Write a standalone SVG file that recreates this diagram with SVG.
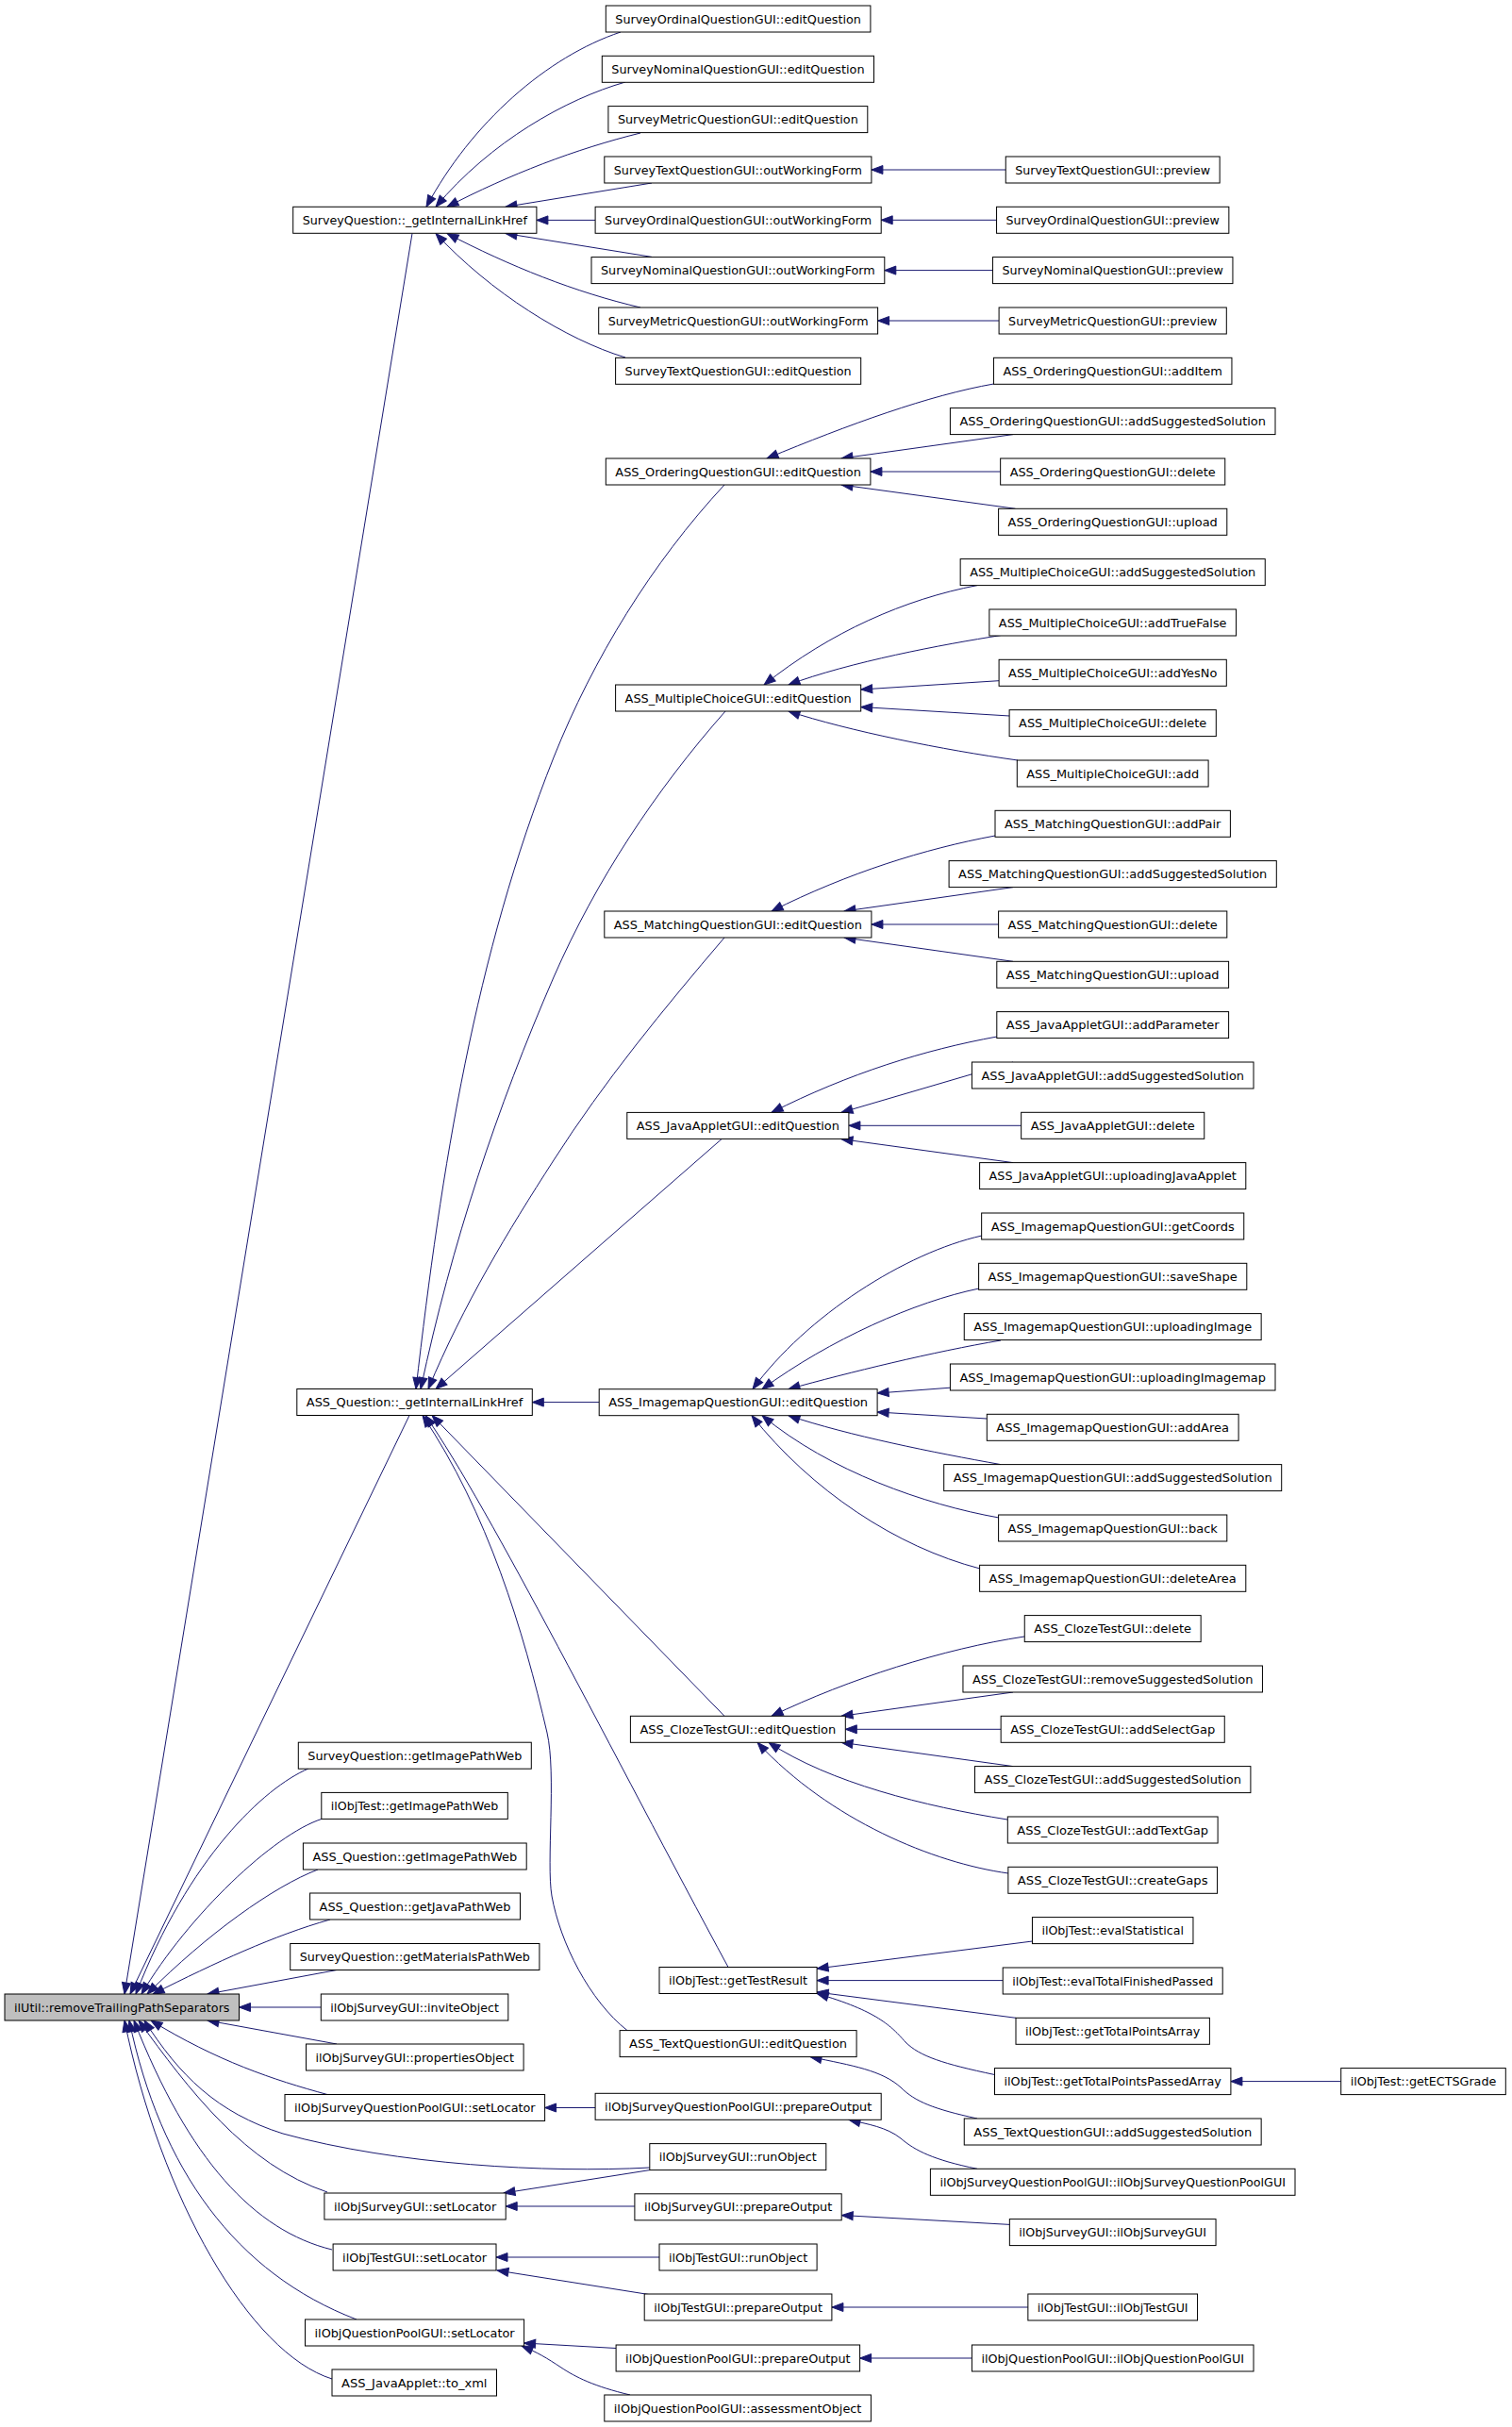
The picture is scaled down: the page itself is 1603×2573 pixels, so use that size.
<svg xmlns="http://www.w3.org/2000/svg" width="1603" height="2573" viewBox="0 0 1603 2573">
<style>
.node rect{fill:#ffffff;stroke:#000000;stroke-width:1}
.node.root rect{fill:#bfbfbf}
.node text{font-family:"DejaVu Sans","Liberation Sans",sans-serif;font-size:12.7px;text-anchor:middle;fill:#000000}
#edges path{fill:none;stroke:#191970;stroke-width:1;marker-end:url(#arr)}
</style>
<defs>
<marker id="arr" markerUnits="userSpaceOnUse" markerWidth="12" markerHeight="9" viewBox="0 0 12 9" refX="12" refY="4.5" orient="auto" overflow="visible">
<path d="M0,0 L12,4.5 L0,9 z" fill="#191970" stroke="#191970" stroke-width="1"/>
</marker>
</defs>
<rect width="1603" height="2573" fill="#ffffff"/>
<g id="edges">
<path d="M658,34 C580,60 500,130 452,219.3"/>
<path d="M663,87 C600,105 520,150 462,219.3"/>
<path d="M679,141 C610,158 540,185 474,219.3"/>
<path d="M691,194 L536,219.3"/>
<path d="M631,233.4 L568.9,233.4"/>
<path d="M691,272.4 L536,247.5"/>
<path d="M679,326 C610,310 540,282 474,247.5"/>
<path d="M663,379 C600,360 520,310 462,247.5"/>
<path d="M1066.3,180 L923.9,180"/>
<path d="M1056.6,233.3 L934.2,233.3"/>
<path d="M1052.5,286.6 L937.8,286.6"/>
<path d="M1059.1,340 L930.6,340"/>
<path d="M437,247.5 L132,2114"/>
<path d="M1053.5,407 C985,419 900,450 813,486"/>
<path d="M1074,460.6 L892,486"/>
<path d="M1060.7,500 L922.9,500"/>
<path d="M1076.5,539.3 L892,514"/>
<path d="M768,514 C691,597 629,698 587,803 C504,1012 468,1237 441,1472.5"/>
<path d="M1036,620.6 C960,635 880,670 810,726"/>
<path d="M1061,673.6 C1000,683 900,702 836,726"/>
<path d="M1059,721.7 L912.7,731"/>
<path d="M1070.4,759 L912.7,749.5"/>
<path d="M1079,806 C1000,795 900,775 836,754"/>
<path d="M769,754 C695,838 632,933 587,1036 C527,1174 479,1318 446,1472.5"/>
<path d="M1055,886 C980,900 900,925 818,966"/>
<path d="M1074,940.6 L895,966"/>
<path d="M1058.6,980 L923.9,980"/>
<path d="M1074,1019.3 L895,994"/>
<path d="M768,994 C704,1069 640,1147 587,1230 C538,1306 492,1382 454,1472.5"/>
<path d="M1057,1099 C980,1113 900,1138 818,1179.4"/>
<path d="M1074,1126 L892,1179.4"/>
<path d="M1082.7,1193.3 L899.9,1193.3"/>
<path d="M1074,1232.6 L892,1207.6"/>
<path d="M765,1207.6 L462,1472.5"/>
<path d="M1041,1310 C960,1328 855,1395 798,1472.7"/>
<path d="M1038,1366 C970,1380 880,1420 808,1472.7"/>
<path d="M1061,1421 C990,1433 900,1455 836,1472.7"/>
<path d="M1007.4,1471.2 L930.1,1477"/>
<path d="M1046.3,1504 L930.1,1497"/>
<path d="M1061,1552.6 C990,1540 900,1522 836,1500.7"/>
<path d="M1059,1609 C980,1595 880,1560 808,1500.7"/>
<path d="M1039,1663 C950,1640 860,1580 797,1500.7"/>
<path d="M635.2,1486.6 L564.3,1486.6"/>
<path d="M1086,1735 C1000,1748 900,1780 818,1819.3"/>
<path d="M1074,1794 L892,1819.3"/>
<path d="M1061.2,1833.3 L896.3,1833.3"/>
<path d="M1074,1872.6 L892,1847.3"/>
<path d="M1068,1929 C980,1915 880,1890 815,1847.3"/>
<path d="M1069,1986 C990,1975 880,1930 803,1847.3"/>
<path d="M768,1819.3 L458,1500.6"/>
<path d="M1094.5,2058 L866.1,2087"/>
<path d="M1063.2,2099.6 L866.1,2099.6"/>
<path d="M1077,2139.3 L866.1,2112"/>
<path d="M1054.5,2199.5 C1000,2188 975,2180 960,2165 C945,2148 930,2132 866.1,2113.5"/>
<path d="M1421.7,2206.6 L1304.9,2206.6"/>
<path d="M772,2085.5 C650,1860 520,1600 451,1500.6"/>
<path d="M1036,2246 C990,2236 970,2228 955,2213 C935,2195 905,2190 859,2180.6"/>
<path d="M665,2152.6 C625,2121 594,2060 585,2010 C579,1975 590,1880 580,1837 C555,1729 517,1603 448,1500.6"/>
<path d="M1036,2299.3 C990,2290 970,2280 955,2267 C940,2255 920,2252 900,2247.3"/>
<path d="M631.1,2234.5 L577.6,2234.5"/>
<path d="M688.8,2298 C580,2304 420,2295 300,2262 C230,2240 190,2200 153,2142"/>
<path d="M688.8,2300.6 L534,2325"/>
<path d="M672.9,2339 L536.2,2339"/>
<path d="M1070.4,2358.4 L892.2,2348.5"/>
<path d="M699,2393 L526,2393"/>
<path d="M689,2432.7 L527,2407"/>
<path d="M1089.9,2446 L881.9,2446"/>
<path d="M653.1,2489.5 L555.6,2484"/>
<path d="M1030.4,2500 L911.6,2500"/>
<path d="M668,2539 C630,2530 610,2520 595,2510 C580,2500 570,2494 553,2487"/>
<path d="M434,1500.6 L138,2114"/>
<path d="M327,1875 C280,1895 200,1970 144,2114"/>
<path d="M341,1928.4 C290,1945 200,2030 150,2114"/>
<path d="M337,1982 C290,2000 220,2050 156,2114"/>
<path d="M350,2035 C290,2052 230,2080 162,2114"/>
<path d="M357,2088.5 L220,2114"/>
<path d="M340.3,2128 L253.5,2128"/>
<path d="M357,2167 L220,2142"/>
<path d="M347,2220.5 C290,2205 230,2185 160,2142"/>
<path d="M347,2324 C260,2295 200,2215 147,2142"/>
<path d="M352,2385 C270,2365 200,2290 142,2142"/>
<path d="M378,2459 C250,2410 170,2300 137,2142"/>
<path d="M352,2522 C265,2495 170,2330 132,2142"/>
</g>
<g id="n1" class="node root"><rect x="5" y="2114" width="248.5" height="28"/><text x="129.25" y="2132.5" textLength="228.5" lengthAdjust="spacingAndGlyphs">ilUtil::removeTrailingPathSeparators</text></g>
<g id="n2" class="node"><rect x="310.7" y="219.3" width="258.2" height="28"/><text x="439.8" y="237.8" textLength="238.2" lengthAdjust="spacingAndGlyphs">SurveyQuestion::_getInternalLinkHref</text></g>
<g id="n3" class="node"><rect x="314.8" y="1472.5" width="249.5" height="28"/><text x="439.55" y="1491" textLength="229.5" lengthAdjust="spacingAndGlyphs">ASS_Question::_getInternalLinkHref</text></g>
<g id="n4" class="node"><rect x="316.3" y="1847.2" width="247" height="28"/><text x="439.8" y="1865.7" textLength="227" lengthAdjust="spacingAndGlyphs">SurveyQuestion::getImagePathWeb</text></g>
<g id="n5" class="node"><rect x="340.8" y="1900.4" width="197.5" height="28"/><text x="439.55" y="1918.9" textLength="177.5" lengthAdjust="spacingAndGlyphs">ilObjTest::getImagePathWeb</text></g>
<g id="n6" class="node"><rect x="321.4" y="1954" width="236.8" height="28"/><text x="439.8" y="1972.5" textLength="216.8" lengthAdjust="spacingAndGlyphs">ASS_Question::getImagePathWeb</text></g>
<g id="n7" class="node"><rect x="328.6" y="2007" width="222.9" height="28"/><text x="440.05" y="2025.5" textLength="202.9" lengthAdjust="spacingAndGlyphs">ASS_Question::getJavaPathWeb</text></g>
<g id="n8" class="node"><rect x="307.7" y="2060.5" width="264.2" height="28"/><text x="439.8" y="2079" textLength="244.2" lengthAdjust="spacingAndGlyphs">SurveyQuestion::getMaterialsPathWeb</text></g>
<g id="n9" class="node"><rect x="340.3" y="2114" width="198.5" height="28"/><text x="439.55" y="2132.5" textLength="178.5" lengthAdjust="spacingAndGlyphs">ilObjSurveyGUI::inviteObject</text></g>
<g id="n10" class="node"><rect x="324.5" y="2167" width="230.6" height="28"/><text x="439.8" y="2185.5" textLength="210.6" lengthAdjust="spacingAndGlyphs">ilObjSurveyGUI::propertiesObject</text></g>
<g id="n11" class="node"><rect x="302" y="2220.5" width="275.6" height="28"/><text x="439.8" y="2239" textLength="255.6" lengthAdjust="spacingAndGlyphs">ilObjSurveyQuestionPoolGUI::setLocator</text></g>
<g id="n12" class="node"><rect x="343.9" y="2325" width="192.3" height="28"/><text x="440.05" y="2343.5" textLength="172.3" lengthAdjust="spacingAndGlyphs">ilObjSurveyGUI::setLocator</text></g>
<g id="n13" class="node"><rect x="353.1" y="2379" width="172.9" height="28"/><text x="439.55" y="2397.5" textLength="152.9" lengthAdjust="spacingAndGlyphs">ilObjTestGUI::setLocator</text></g>
<g id="n14" class="node"><rect x="323.5" y="2459" width="232.1" height="28"/><text x="439.55" y="2477.5" textLength="212.1" lengthAdjust="spacingAndGlyphs">ilObjQuestionPoolGUI::setLocator</text></g>
<g id="n15" class="node"><rect x="352" y="2512" width="174.5" height="28"/><text x="439.25" y="2530.5" textLength="154.5" lengthAdjust="spacingAndGlyphs">ASS_JavaApplet::to_xml</text></g>
<g id="n16" class="node"><rect x="642.3" y="6" width="280.6" height="28"/><text x="782.6" y="24.5" textLength="260.6" lengthAdjust="spacingAndGlyphs">SurveyOrdinalQuestionGUI::editQuestion</text></g>
<g id="n17" class="node"><rect x="638.3" y="59.3" width="288.2" height="28"/><text x="782.4" y="77.8" textLength="268.2" lengthAdjust="spacingAndGlyphs">SurveyNominalQuestionGUI::editQuestion</text></g>
<g id="n18" class="node"><rect x="644.9" y="112.6" width="274.9" height="28"/><text x="782.35" y="131.1" textLength="254.9" lengthAdjust="spacingAndGlyphs">SurveyMetricQuestionGUI::editQuestion</text></g>
<g id="n19" class="node"><rect x="640.8" y="166" width="283.1" height="28"/><text x="782.35" y="184.5" textLength="263.1" lengthAdjust="spacingAndGlyphs">SurveyTextQuestionGUI::outWorkingForm</text></g>
<g id="n20" class="node"><rect x="631.1" y="219.3" width="303.1" height="28"/><text x="782.65" y="237.8" textLength="283.1" lengthAdjust="spacingAndGlyphs">SurveyOrdinalQuestionGUI::outWorkingForm</text></g>
<g id="n21" class="node"><rect x="627" y="272.6" width="310.8" height="28"/><text x="782.4" y="291.1" textLength="290.8" lengthAdjust="spacingAndGlyphs">SurveyNominalQuestionGUI::outWorkingForm</text></g>
<g id="n22" class="node"><rect x="634.7" y="326" width="295.9" height="28"/><text x="782.65" y="344.5" textLength="275.9" lengthAdjust="spacingAndGlyphs">SurveyMetricQuestionGUI::outWorkingForm</text></g>
<g id="n23" class="node"><rect x="652.6" y="379.3" width="260.1" height="28"/><text x="782.65" y="397.8" textLength="240.1" lengthAdjust="spacingAndGlyphs">SurveyTextQuestionGUI::editQuestion</text></g>
<g id="n24" class="node"><rect x="642.3" y="486" width="280.6" height="28"/><text x="782.6" y="504.5" textLength="260.6" lengthAdjust="spacingAndGlyphs">ASS_OrderingQuestionGUI::editQuestion</text></g>
<g id="n25" class="node"><rect x="652.6" y="726" width="260.1" height="28"/><text x="782.65" y="744.5" textLength="240.1" lengthAdjust="spacingAndGlyphs">ASS_MultipleChoiceGUI::editQuestion</text></g>
<g id="n26" class="node"><rect x="640.8" y="966" width="283.1" height="28"/><text x="782.35" y="984.5" textLength="263.1" lengthAdjust="spacingAndGlyphs">ASS_MatchingQuestionGUI::editQuestion</text></g>
<g id="n27" class="node"><rect x="664.8" y="1179.4" width="235.1" height="28"/><text x="782.35" y="1197.9" textLength="215.1" lengthAdjust="spacingAndGlyphs">ASS_JavaAppletGUI::editQuestion</text></g>
<g id="n28" class="node"><rect x="635.2" y="1472.7" width="294.9" height="28"/><text x="782.65" y="1491.2" textLength="274.9" lengthAdjust="spacingAndGlyphs">ASS_ImagemapQuestionGUI::editQuestion</text></g>
<g id="n29" class="node"><rect x="668.4" y="1819.3" width="227.9" height="28"/><text x="782.35" y="1837.8" textLength="207.9" lengthAdjust="spacingAndGlyphs">ASS_ClozeTestGUI::editQuestion</text></g>
<g id="n30" class="node"><rect x="699" y="2085.5" width="167.1" height="28"/><text x="782.55" y="2104" textLength="147.1" lengthAdjust="spacingAndGlyphs">ilObjTest::getTestResult</text></g>
<g id="n31" class="node"><rect x="657.1" y="2152.6" width="251" height="28"/><text x="782.6" y="2171.1" textLength="231" lengthAdjust="spacingAndGlyphs">ASS_TextQuestionGUI::editQuestion</text></g>
<g id="n32" class="node"><rect x="631.1" y="2219.3" width="303.1" height="28"/><text x="782.65" y="2237.8" textLength="283.1" lengthAdjust="spacingAndGlyphs">ilObjSurveyQuestionPoolGUI::prepareOutput</text></g>
<g id="n33" class="node"><rect x="688.8" y="2272.6" width="187" height="28"/><text x="782.3" y="2291.1" textLength="167" lengthAdjust="spacingAndGlyphs">ilObjSurveyGUI::runObject</text></g>
<g id="n34" class="node"><rect x="672.9" y="2325.8" width="219.3" height="28"/><text x="782.55" y="2344.3" textLength="199.3" lengthAdjust="spacingAndGlyphs">ilObjSurveyGUI::prepareOutput</text></g>
<g id="n35" class="node"><rect x="699" y="2379" width="167.1" height="28"/><text x="782.55" y="2397.5" textLength="147.1" lengthAdjust="spacingAndGlyphs">ilObjTestGUI::runObject</text></g>
<g id="n36" class="node"><rect x="683.2" y="2432" width="198.7" height="28"/><text x="782.55" y="2450.5" textLength="178.7" lengthAdjust="spacingAndGlyphs">ilObjTestGUI::prepareOutput</text></g>
<g id="n37" class="node"><rect x="653.1" y="2486" width="258.5" height="28"/><text x="782.35" y="2504.5" textLength="238.5" lengthAdjust="spacingAndGlyphs">ilObjQuestionPoolGUI::prepareOutput</text></g>
<g id="n38" class="node"><rect x="640.8" y="2539" width="282.6" height="28"/><text x="782.1" y="2557.5" textLength="262.6" lengthAdjust="spacingAndGlyphs">ilObjQuestionPoolGUI::assessmentObject</text></g>
<g id="n39" class="node"><rect x="1066.25" y="166" width="226.9" height="28"/><text x="1179.7" y="184.5" textLength="206.9" lengthAdjust="spacingAndGlyphs">SurveyTextQuestionGUI::preview</text></g>
<g id="n40" class="node"><rect x="1056.55" y="219.3" width="246.3" height="28"/><text x="1179.7" y="237.8" textLength="226.3" lengthAdjust="spacingAndGlyphs">SurveyOrdinalQuestionGUI::preview</text></g>
<g id="n41" class="node"><rect x="1052.45" y="272.6" width="254.5" height="28"/><text x="1179.7" y="291.1" textLength="234.5" lengthAdjust="spacingAndGlyphs">SurveyNominalQuestionGUI::preview</text></g>
<g id="n42" class="node"><rect x="1059.1" y="326" width="241.2" height="28"/><text x="1179.7" y="344.5" textLength="221.2" lengthAdjust="spacingAndGlyphs">SurveyMetricQuestionGUI::preview</text></g>
<g id="n43" class="node"><rect x="1053.45" y="379.3" width="252.5" height="28"/><text x="1179.7" y="397.8" textLength="232.5" lengthAdjust="spacingAndGlyphs">ASS_OrderingQuestionGUI::addItem</text></g>
<g id="n44" class="node"><rect x="1007.4" y="432.6" width="344.6" height="28"/><text x="1179.7" y="451.1" textLength="324.6" lengthAdjust="spacingAndGlyphs">ASS_OrderingQuestionGUI::addSuggestedSolution</text></g>
<g id="n45" class="node"><rect x="1060.65" y="486" width="238.1" height="28"/><text x="1179.7" y="504.5" textLength="218.1" lengthAdjust="spacingAndGlyphs">ASS_OrderingQuestionGUI::delete</text></g>
<g id="n46" class="node"><rect x="1058.6" y="539.3" width="242.2" height="28"/><text x="1179.7" y="557.8" textLength="222.2" lengthAdjust="spacingAndGlyphs">ASS_OrderingQuestionGUI::upload</text></g>
<g id="n47" class="node"><rect x="1018.15" y="592.6" width="323.1" height="28"/><text x="1179.7" y="611.1" textLength="303.1" lengthAdjust="spacingAndGlyphs">ASS_MultipleChoiceGUI::addSuggestedSolution</text></g>
<g id="n48" class="node"><rect x="1048.85" y="646" width="261.7" height="28"/><text x="1179.7" y="664.5" textLength="241.7" lengthAdjust="spacingAndGlyphs">ASS_MultipleChoiceGUI::addTrueFalse</text></g>
<g id="n49" class="node"><rect x="1059.1" y="699.3" width="241.2" height="28"/><text x="1179.7" y="717.8" textLength="221.2" lengthAdjust="spacingAndGlyphs">ASS_MultipleChoiceGUI::addYesNo</text></g>
<g id="n50" class="node"><rect x="1070.1" y="752.6" width="219.2" height="28"/><text x="1179.7" y="771.1" textLength="199.2" lengthAdjust="spacingAndGlyphs">ASS_MultipleChoiceGUI::delete</text></g>
<g id="n51" class="node"><rect x="1078.3" y="806" width="202.8" height="28"/><text x="1179.7" y="824.5" textLength="182.8" lengthAdjust="spacingAndGlyphs">ASS_MultipleChoiceGUI::add</text></g>
<g id="n52" class="node"><rect x="1055" y="859.3" width="249.4" height="28"/><text x="1179.7" y="877.8" textLength="229.4" lengthAdjust="spacingAndGlyphs">ASS_MatchingQuestionGUI::addPair</text></g>
<g id="n53" class="node"><rect x="1006.1" y="912.6" width="347.2" height="28"/><text x="1179.7" y="931.1" textLength="327.2" lengthAdjust="spacingAndGlyphs">ASS_MatchingQuestionGUI::addSuggestedSolution</text></g>
<g id="n54" class="node"><rect x="1058.6" y="966" width="242.2" height="28"/><text x="1179.7" y="984.5" textLength="222.2" lengthAdjust="spacingAndGlyphs">ASS_MatchingQuestionGUI::delete</text></g>
<g id="n55" class="node"><rect x="1056.8" y="1019.3" width="245.8" height="28"/><text x="1179.7" y="1037.8" textLength="225.8" lengthAdjust="spacingAndGlyphs">ASS_MatchingQuestionGUI::upload</text></g>
<g id="n56" class="node"><rect x="1056.8" y="1072.6" width="245.8" height="28"/><text x="1179.7" y="1091.1" textLength="225.8" lengthAdjust="spacingAndGlyphs">ASS_JavaAppletGUI::addParameter</text></g>
<g id="n57" class="node"><rect x="1030.4" y="1126" width="298.6" height="28"/><text x="1179.7" y="1144.5" textLength="278.6" lengthAdjust="spacingAndGlyphs">ASS_JavaAppletGUI::addSuggestedSolution</text></g>
<g id="n58" class="node"><rect x="1082.65" y="1179.3" width="194.1" height="28"/><text x="1179.7" y="1197.8" textLength="174.1" lengthAdjust="spacingAndGlyphs">ASS_JavaAppletGUI::delete</text></g>
<g id="n59" class="node"><rect x="1038.6" y="1232.6" width="282.2" height="28"/><text x="1179.7" y="1251.1" textLength="262.2" lengthAdjust="spacingAndGlyphs">ASS_JavaAppletGUI::uploadingJavaApplet</text></g>
<g id="n60" class="node"><rect x="1040.65" y="1286" width="278.1" height="28"/><text x="1179.7" y="1304.5" textLength="258.1" lengthAdjust="spacingAndGlyphs">ASS_ImagemapQuestionGUI::getCoords</text></g>
<g id="n61" class="node"><rect x="1037.6" y="1339.3" width="284.2" height="28"/><text x="1179.7" y="1357.8" textLength="264.2" lengthAdjust="spacingAndGlyphs">ASS_ImagemapQuestionGUI::saveShape</text></g>
<g id="n62" class="node"><rect x="1022.25" y="1392.6" width="314.9" height="28"/><text x="1179.7" y="1411.1" textLength="294.9" lengthAdjust="spacingAndGlyphs">ASS_ImagemapQuestionGUI::uploadingImage</text></g>
<g id="n63" class="node"><rect x="1007.4" y="1446" width="344.6" height="28"/><text x="1179.7" y="1464.5" textLength="324.6" lengthAdjust="spacingAndGlyphs">ASS_ImagemapQuestionGUI::uploadingImagemap</text></g>
<g id="n64" class="node"><rect x="1046.3" y="1499.3" width="266.8" height="28"/><text x="1179.7" y="1517.8" textLength="246.8" lengthAdjust="spacingAndGlyphs">ASS_ImagemapQuestionGUI::addArea</text></g>
<g id="n65" class="node"><rect x="1000.7" y="1552.6" width="358" height="28"/><text x="1179.7" y="1571.1" textLength="338" lengthAdjust="spacingAndGlyphs">ASS_ImagemapQuestionGUI::addSuggestedSolution</text></g>
<g id="n66" class="node"><rect x="1058.6" y="1606" width="242.2" height="28"/><text x="1179.7" y="1624.5" textLength="222.2" lengthAdjust="spacingAndGlyphs">ASS_ImagemapQuestionGUI::back</text></g>
<g id="n67" class="node"><rect x="1038.6" y="1659.3" width="282.2" height="28"/><text x="1179.7" y="1677.8" textLength="262.2" lengthAdjust="spacingAndGlyphs">ASS_ImagemapQuestionGUI::deleteArea</text></g>
<g id="n68" class="node"><rect x="1086.25" y="1712.6" width="186.9" height="28"/><text x="1179.7" y="1731.1" textLength="166.9" lengthAdjust="spacingAndGlyphs">ASS_ClozeTestGUI::delete</text></g>
<g id="n69" class="node"><rect x="1020.95" y="1766" width="317.5" height="28"/><text x="1179.7" y="1784.5" textLength="297.5" lengthAdjust="spacingAndGlyphs">ASS_ClozeTestGUI::removeSuggestedSolution</text></g>
<g id="n70" class="node"><rect x="1061.15" y="1819.3" width="237.1" height="28"/><text x="1179.7" y="1837.8" textLength="217.1" lengthAdjust="spacingAndGlyphs">ASS_ClozeTestGUI::addSelectGap</text></g>
<g id="n71" class="node"><rect x="1033.5" y="1872.6" width="292.4" height="28"/><text x="1179.7" y="1891.1" textLength="272.4" lengthAdjust="spacingAndGlyphs">ASS_ClozeTestGUI::addSuggestedSolution</text></g>
<g id="n72" class="node"><rect x="1068.3" y="1926" width="222.8" height="28"/><text x="1179.7" y="1944.5" textLength="202.8" lengthAdjust="spacingAndGlyphs">ASS_ClozeTestGUI::addTextGap</text></g>
<g id="n73" class="node"><rect x="1068.85" y="1979.3" width="221.7" height="28"/><text x="1179.7" y="1997.8" textLength="201.7" lengthAdjust="spacingAndGlyphs">ASS_ClozeTestGUI::createGaps</text></g>
<g id="n74" class="node"><rect x="1094.45" y="2032.6" width="170.5" height="28"/><text x="1179.7" y="2051.1" textLength="150.5" lengthAdjust="spacingAndGlyphs">ilObjTest::evalStatistical</text></g>
<g id="n75" class="node"><rect x="1063.2" y="2086" width="233" height="28"/><text x="1179.7" y="2104.5" textLength="213" lengthAdjust="spacingAndGlyphs">ilObjTest::evalTotalFinishedPassed</text></g>
<g id="n76" class="node"><rect x="1077" y="2139.3" width="205.4" height="28"/><text x="1179.7" y="2157.8" textLength="185.4" lengthAdjust="spacingAndGlyphs">ilObjTest::getTotalPointsArray</text></g>
<g id="n77" class="node"><rect x="1054.5" y="2192.6" width="250.4" height="28"/><text x="1179.7" y="2211.1" textLength="230.4" lengthAdjust="spacingAndGlyphs">ilObjTest::getTotalPointsPassedArray</text></g>
<g id="n78" class="node"><rect x="1022.25" y="2246" width="314.9" height="28"/><text x="1179.7" y="2264.5" textLength="294.9" lengthAdjust="spacingAndGlyphs">ASS_TextQuestionGUI::addSuggestedSolution</text></g>
<g id="n79" class="node"><rect x="986.4" y="2299.3" width="386.6" height="28"/><text x="1179.7" y="2317.8" textLength="366.6" lengthAdjust="spacingAndGlyphs">ilObjSurveyQuestionPoolGUI::ilObjSurveyQuestionPoolGUI</text></g>
<g id="n80" class="node"><rect x="1070.35" y="2352.6" width="218.7" height="28"/><text x="1179.7" y="2371.1" textLength="198.7" lengthAdjust="spacingAndGlyphs">ilObjSurveyGUI::ilObjSurveyGUI</text></g>
<g id="n81" class="node"><rect x="1089.85" y="2432" width="179.7" height="28"/><text x="1179.7" y="2450.5" textLength="159.7" lengthAdjust="spacingAndGlyphs">ilObjTestGUI::ilObjTestGUI</text></g>
<g id="n82" class="node"><rect x="1030.4" y="2486" width="298.6" height="28"/><text x="1179.7" y="2504.5" textLength="278.6" lengthAdjust="spacingAndGlyphs">ilObjQuestionPoolGUI::ilObjQuestionPoolGUI</text></g>
<g id="n83" class="node"><rect x="1421.7" y="2192.6" width="174.6" height="28"/><text x="1509" y="2211.1" textLength="154.6" lengthAdjust="spacingAndGlyphs">ilObjTest::getECTSGrade</text></g>
</svg>
